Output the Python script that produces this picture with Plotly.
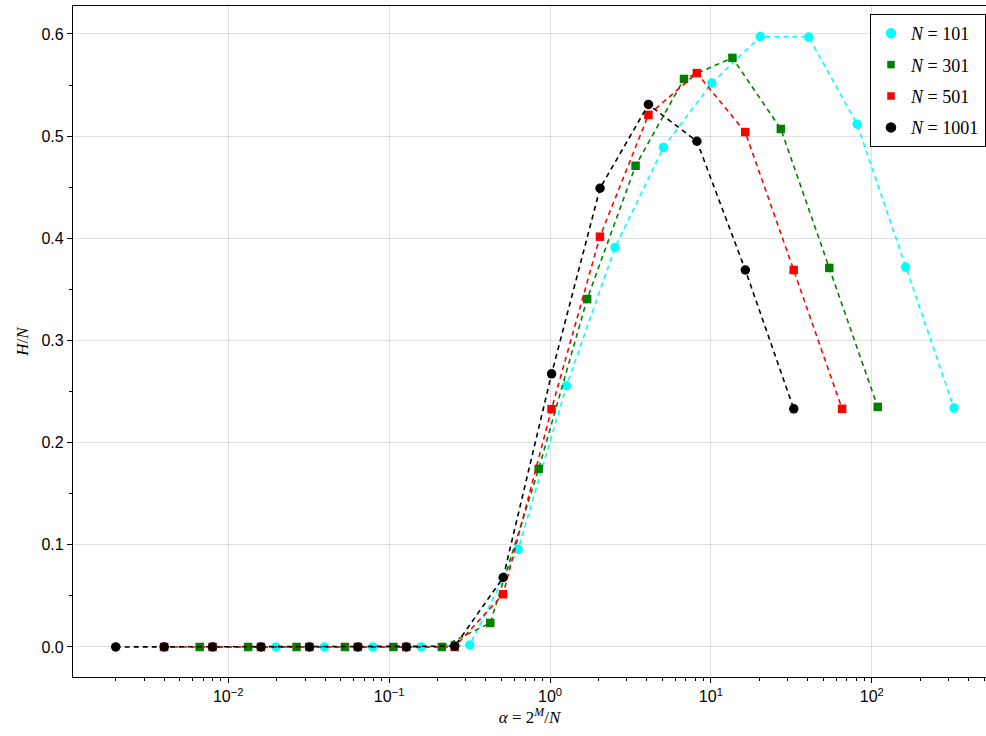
import plotly.graph_objects as go

# Data: exponent M (alpha = 2^M / N) and normalized H/N for each system size N
M = list(range(1, 16))
N_values = [101, 301, 501, 1001]

h_101 = [0.0, 0.0, 0.0, 0.0, 0.002, 0.0957, 0.2557, 0.391, 0.489, 0.552, 0.5975, 0.597, 0.5117, 0.3719, 0.2338]
h_301 = [0.0, 0.0, 0.0, 0.0, 0.0, 0.0, 0.0235, 0.1743, 0.3405, 0.471, 0.556, 0.5766, 0.507, 0.371, 0.235]
h_501 = [0.0, 0.0, 0.0, 0.0, 0.0, 0.0, 0.0, 0.0516, 0.2328, 0.4016, 0.5208, 0.5617, 0.504, 0.369, 0.2331]
h_1001 = [0.0, 0.0, 0.0, 0.0, 0.0, 0.0, 0.0, 0.0007, 0.068, 0.2674, 0.449, 0.531, 0.495, 0.369, 0.2331]

h_values = [h_101, h_301, h_501, h_1001]
colors = ["#00FFFF", "#008000", "#FF0000", "#000000"]
symbols = ["circle", "square", "square", "circle"]
sizes = [9.5, 8.5, 8.5, 9.5]

x_tickvals = [0.01, 0.1, 1, 10, 100]
x_ticktext = ["10<sup>−2</sup>", "10<sup>−1</sup>", "10<sup>0</sup>", "10<sup>1</sup>", "10<sup>2</sup>"]
y_tickvals = [0.0, 0.1, 0.2, 0.3, 0.4, 0.5, 0.6]

fig = go.Figure()
for N, h, color, sym, size in zip(N_values, h_values, colors, symbols, sizes):
    x = [2 ** m / N for m in M]
    fig.add_trace(go.Scatter(
        x=x, y=h, mode="lines+markers", showlegend=False,
        line=dict(color=color, width=1.6, dash="5px,4px"),
        marker=dict(color=color, symbol=sym, size=size, line=dict(width=0)),
    ))

# legend entries: markers only
for N, color, sym, size in zip(N_values, colors, symbols, sizes):
    fig.add_trace(go.Scatter(
        x=[None], y=[None], mode="markers",
        name=f"<i>N</i> = {N}", legendgroup=str(N),
        marker=dict(color=color, symbol=sym, size=size + (1 if sym == "circle" else -1), line=dict(width=0)),
    ))

minor_x = [d * 10.0 ** e for e in range(-3, 3) for d in range(2, 10)]

fig.update_layout(
    width=986, height=736,
    margin=dict(l=73, r=0, t=6, b=59),
    plot_bgcolor="white", paper_bgcolor="white",
    font=dict(family="Liberation Sans", size=16, color="black"),
    showlegend=True,
    legend=dict(
        x=(870 - 73) / 913, y=(677 - 14) / 671, xanchor="left", yanchor="top",
        bordercolor="black", borderwidth=1, bgcolor="white",
        font=dict(family="Liberation Serif", size=18, color="black"),
        itemsizing="trace",
        tracegroupgap=5,
    ),
)

fig.update_xaxes(
    type="log", range=[-2.965, 2.71],
    tickmode="array", tickvals=x_tickvals, ticktext=x_ticktext,
    ticks="outside", ticklen=5, tickwidth=1, tickcolor="black",
    showline=True, linecolor="black", linewidth=1.2, mirror=True,
    showgrid=True, gridcolor="rgba(0,0,0,0.12)", gridwidth=1,
    zeroline=False,
    minor=dict(tickmode="array", tickvals=minor_x, ticks="outside", ticklen=3,
               tickcolor="black", showgrid=False),
    title=dict(text="<i>α</i> = 2<sup><i>M</i></sup>/<i>N</i>",
               font=dict(family="Liberation Serif", size=17), standoff=4),
)
fig.update_yaxes(
    range=[-0.0294, 0.6274],
    tickmode="array", tickvals=y_tickvals, ticktext=[f"{v:.1f}" for v in y_tickvals],
    ticks="outside", ticklen=5, tickwidth=1, tickcolor="black",
    showline=True, linecolor="black", linewidth=1.2, mirror=False,
    showgrid=True, gridcolor="rgba(0,0,0,0.12)", gridwidth=1,
    zeroline=False,
    minor=dict(tickmode="array", tickvals=[0.05, 0.15, 0.25, 0.35, 0.45, 0.55],
               ticks="outside", ticklen=3, tickcolor="black", showgrid=False),
    title=dict(text="<i>H</i>/<i>N</i>",
               font=dict(family="Liberation Serif", size=17), standoff=8),
)

fig.write_html("out.html")
